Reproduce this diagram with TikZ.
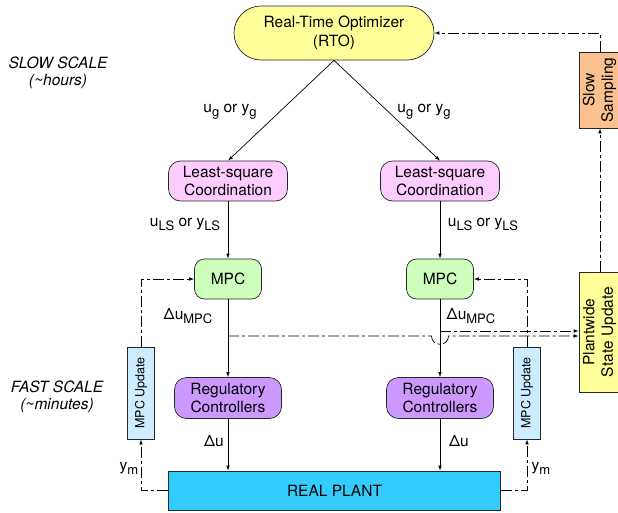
\documentclass[tikz,border=0pt]{standalone}
\usepackage{fontspec}
\setmainfont{TeX Gyre Heros}
\usepackage{graphicx}
\usetikzlibrary{arrows.meta,positioning,calc}

\definecolor{rtoyellow}{HTML}{FFFF99}
\definecolor{lspink}{HTML}{FFCCFF}
\definecolor{mpcgreen}{HTML}{CCFFBB}
\definecolor{regpurple}{HTML}{CC99FF}
\definecolor{plantblue}{HTML}{33CCFF}
\definecolor{updblue}{HTML}{CCECFF}
\definecolor{sloworange}{HTML}{FAC090}

% lowered, near full-size subscript
\newcommand{\lowsub}[1]{\raisebox{-4.5pt}{\fontsize{13}{13}\selectfont #1}}

\begin{document}
\begin{tikzpicture}[x=1pt, y=-1pt, font=\fontsize{15.5}{18.5}\selectfont,
    >={Latex[length=5pt,width=3.6pt]}]
    \tikzset{
        block/.style={draw=black!85, line width=0.7pt, align=center, inner sep=0pt},
        flow/.style={->, line width=0.7pt},
        dashdot/.style={->, line width=0.7pt, dash pattern=on 11pt off 3pt on 3pt off 3pt},
        lbl/.style={anchor=base, inner sep=0pt},
        scalelbl/.style={align=center, inner sep=0pt, font=\fontsize{15.5}{17}\selectfont\itshape}
    }
    \useasboundingbox (0,0) rectangle (618,512);

    % Slow scale
    \node[block, fill=rtoyellow, rounded corners=26.9pt, minimum width=200pt, minimum height=54pt]
        (rto) at (334,33) {Real-Time Optimizer\\(RTO)};
    \node[block, fill=sloworange, minimum width=42pt, minimum height=76pt]
        (slow) at (600,90) {\rotatebox{90}{\begin{tabular}{@{}c@{}}Slow\\Sampling\end{tabular}}};
    \node[block, fill=rtoyellow, minimum width=42pt, minimum height=120pt]
        (pw) at (600,332) {\rotatebox{90}{\begin{tabular}{@{}c@{}}Plantwide\\State Update\end{tabular}}};

    % Two control columns
    \foreach \s/\x in {L/228, R/440} {
            \node[block, fill=lspink, rounded corners=12pt, minimum width=119pt, minimum height=40pt]
                (ls\s) at (\x,181) {Least-square\\Coordination};
            \node[block, fill=mpcgreen, rounded corners=10pt, minimum width=67pt, minimum height=40pt]
                (mpc\s) at (\x,279) {MPC};
            \node[block, fill=regpurple, rounded corners=12pt, minimum width=107pt, minimum height=41pt]
                (reg\s) at (\x,398) {Regulatory\\Controllers};
        }
    \node[block, fill=plantblue, minimum width=332pt, minimum height=39pt]
        (plant) at (334.5,490.5) {REAL PLANT};
    \foreach \s/\x in {L/141, R/527} {
            \node[block, fill=updblue, minimum width=27pt, minimum height=92pt,
                font=\fontsize{12.5}{15}\selectfont]
                (upd\s) at (\x,393) {\rotatebox{90}{MPC Update}};
        }

    % Solid signal flow
    \foreach \s in {L, R} {
            \draw[flow] (rto.south) -- (ls\s.north);
            \draw[flow] (ls\s.south) -- (mpc\s.north);
            \draw[flow] (mpc\s.south) -- (reg\s.north);
            \draw[flow] (reg\s.south) -- (reg\s.south |- plant.north);
        }

    % MPC update loops
    \draw[dashdot] (plant.west) -| (updL.south);
    \draw[dashdot] (updL.north) |- (mpcL.west);
    \draw[dashdot] (plant.east) -| (updR.south);
    \draw[dashdot] (updR.north) |- (mpcR.east);

    % Plantwide feedback
    \coordinate (tapL) at (228,336);
    \coordinate (tapR) at (440,331);
    \draw[dashdot] (tapL) -- (431.5,336) .. controls (431.5,347) and (448.5,347) .. (448.5,336)
        -- (pw.west |- tapL);
    \draw[dashdot] (tapR) -- (pw.west |- tapR);
    \draw[dashdot] (pw.north) -- (slow.south);
    \draw[dashdot] (slow.north) |- (rto.east);

    % Labels
    \node[lbl] (ugL) at (230,112) {u\lowsub{g} or y\lowsub{g}};
    \node[lbl] (ugR) at (424,112) {u\lowsub{g} or y\lowsub{g}};
    \node[lbl] (ulsL) at (185,226) {u\lowsub{LS} or y\lowsub{LS}};
    \node[lbl] (ulsR) at (483,226) {u\lowsub{LS} or y\lowsub{LS}};
    \node[lbl] (dumL) at (188,319) {Δu\lowsub{MPC}};
    \node[lbl] (dumR) at (471,319) {Δu\lowsub{MPC}};
    \node[lbl] (duL) at (214,446) {Δu};
    \node[lbl] (duR) at (459,446) {Δu};
    \node[lbl] (ymL) at (129,470) {y\lowsub{m}};
    \node[lbl] (ymR) at (541,470) {y\lowsub{m}};
    \node[scalelbl] (slowscale) at (58,73) {SLOW SCALE\\(\textasciitilde hours)};
    \node[scalelbl] (fastscale) at (57,397) {FAST SCALE\\(\textasciitilde minutes)};

\end{tikzpicture}
\end{document}
